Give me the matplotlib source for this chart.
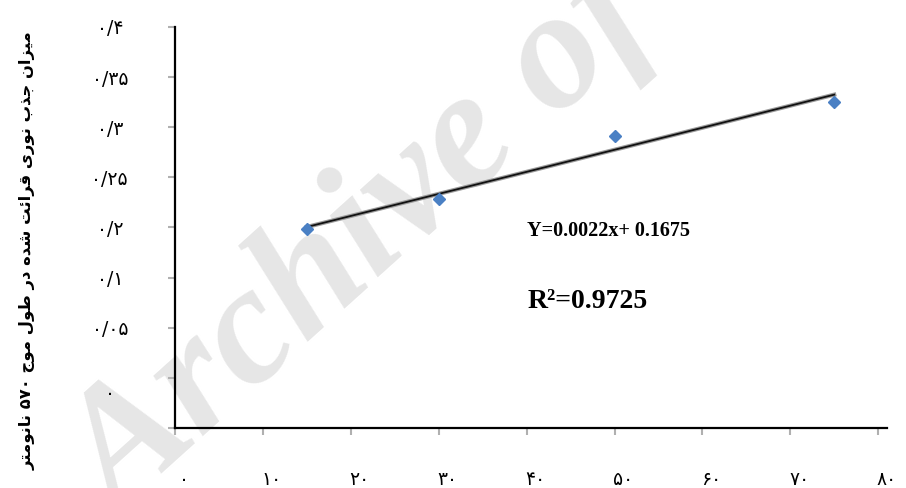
import matplotlib.pyplot as plt
import numpy as np

# concentration (x) vs absorbance at 570 nm (y)
conc = [15, 30, 50, 75]
absorb = [0.198, 0.228, 0.291, 0.325]

# fitted line as printed on the chart
slope = 0.0022
intercept = 0.1675
r2 = 0.9725

x_ticks = [0, 10, 20, 30, 40, 50, 60, 70, 80]
x_labels = ['۰', '۱۰', '۲۰', '۳۰', '۴۰', '۵۰', '۶۰', '۷۰', '۸۰']
y_ticks = [0, 0.05, 0.1, 0.15, 0.2, 0.25, 0.3, 0.35, 0.4]
# labels as they appear on the original (misplaced ones kept)
y_label_pos = [0.4, 0.35, 0.3, 0.25, 0.2, 0.15, 0.1, 0.036]
y_labels = ['۰/۴', '۰/۳۵', '۰/۳', '۰/۲۵', '۰/۲', '۰/۱', '۰/۰۵', '۰']

# y title, pre-shaped Persian (visual order, presentation forms)
ytitle = ('\uFEAE\uFE98\uFEE3\uFEEE\uFEE7\uFE8E\uFEE7 '
          '\u06F5\u06F7\u06F0 '
          '\uFE9D\uFEEE\uFEE3 '
          '\uFEDD\uFEEE\uFEC3 '
          '\uFEAD\uFEA9 '
          '\uFEE9\uFEAA\uFEB7 '
          '\uFE96\uFE8B\uFE8D\uFEAE\uFED7 '
          '\uFBFC\uFEAD\uFEEE\uFEE7 '
          '\uFE8F\uFEAC\uFE9F '
          '\uFEE5\uFE8D\uFEB0\uFBFF\uFEE3')

fig = plt.figure(figsize=(9.06, 4.88), dpi=100)
ax = fig.add_axes([0.1932, 0.123, 0.7858, 0.8217])
ax.patch.set_alpha(0)

# watermark
fig.text(0.40, 0.50, 'Archive of', rotation=42, fontsize=122, color='#e6e6e6',
         family='Liberation Serif', weight='bold', style='italic',
         ha='center', va='center', zorder=-1)

xs = np.array([conc[0], conc[-1]])
ax.plot(xs, slope * xs + intercept, color='#9a9a9a', lw=3.0, zorder=2)
ax.plot(xs, slope * xs + intercept, color='#111111', lw=1.3, zorder=3)
ax.plot(conc, absorb, linestyle='none', marker='D', markersize=6.5,
        color='#4a80c4', zorder=4)

ax.set_xlim(0, 80)
ax.set_ylim(0, 0.4)
for s in ['top', 'right']:
    ax.spines[s].set_visible(False)
for s in ['left', 'bottom']:
    ax.spines[s].set_linewidth(1.6)
    ax.spines[s].set_color('black')

ax.xaxis.remove_overlapping_locs = False
ax.yaxis.remove_overlapping_locs = False
ax.set_xticks(x_ticks)
ax.set_yticks(y_ticks)
ax.tick_params(which='major', length=5, width=1.5, color='#b0b0b0',
               labelleft=False, labelbottom=False)

ax.set_xticks([v + 1 for v in x_ticks], labels=x_labels, minor=True)
ax.set_yticks(y_label_pos, labels=y_labels, minor=True)
ax.tick_params(axis='x', which='minor', length=0, pad=30, labelsize=13.5)
ax.tick_params(axis='y', which='minor', length=0, pad=47, labelsize=13.5)
for lab in ax.get_yticklabels(minor=True):
    lab.set_horizontalalignment('center')

fig.text(0.03, 0.486, ytitle, rotation=90, fontsize=11.75, weight='bold',
         family='DejaVu Sans', ha='center', va='center')

ax.text(0.495, 0.49, 'Y=0.0022x+ 0.1675', transform=ax.transAxes,
        family='Liberation Serif', weight='bold', fontsize=14.5,
        ha='left', va='center')
ax.text(0.495, 0.315, 'R²=' + str(r2), transform=ax.transAxes,
        family='Liberation Serif', weight='bold', fontsize=20,
        ha='left', va='center')

fig.savefig('out.png', dpi=100)
